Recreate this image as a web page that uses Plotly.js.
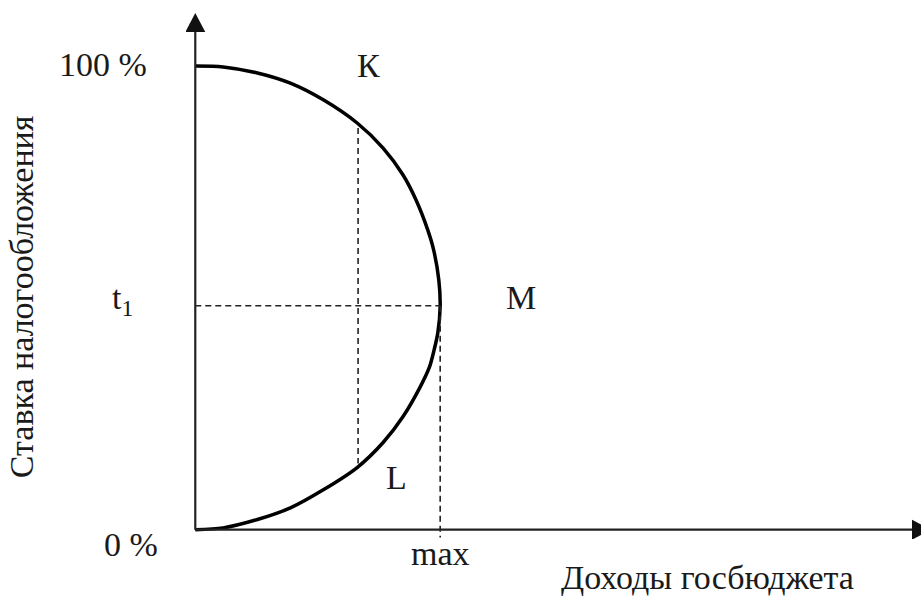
<!DOCTYPE html>
<html>
<head>
<meta charset="utf-8">
<script src="https://cdn.plot.ly/plotly-3.0.1.min.js"></script>
<style>
  body { margin: 0; background: #fff; }
  #chart { width: 921px; height: 598px; }
</style>
</head>
<body>
<div id="chart"></div>
<script>
// curve (x = revenue, y = tax rate %)
var curveX = [0, 6.0, 13.4, 20.5, 27.6, 34.9, 40.5, 44.8, 47.6, 50.1, 51.4, 52.5, 52.8,
              52.3, 51.5, 50.5, 48.5, 44.8, 40.5, 34.9, 27.6, 20.5, 13.4, 6.0, 0];
var curveY = [100, 99.8, 98.5, 96.3, 92.7, 87.7, 82.3, 76.5, 71.1, 64.7, 60.3, 53.9, 48.3,
              42.5, 38.8, 35.1, 30.8, 24.4, 18.8, 13.4, 8.6, 4.7, 2.2, 0.4, 0];

var t1Rate = 48.3;          // rate giving max revenue
var maxRevenue = 52.8;      // revenue at t1
var kRevenue = 35.1;        // revenue at points K and L
var kRate = 86.6;
var lRate = 14.3;

var pointLabels = ['К', 'М', 'L'];
var pointX = [37.3, 70.3, 43.3];
var pointY = [100, 50, 11.2];

var rateLabels = ['100 %', 't<sub>1</sub>', '0 %'];
var xTitle = 'Доходы госбюджета';
var yTitle = 'Ставка налогообложения';

// scale: 4.64 px per unit, origin at pixel (195, 530)
var K = 4.64, OX = 195, OY = 530;
var xLo = -2, yLo = -2;
var xHi = (921 - OX) / K, yTip = 111.4;
var mL = OX + xLo * K, mB = 598 - (OY - yLo * K), mT = 10;
var W = 921 - mL, H = 598 - mT - mB;
function px(x) { return (x - mL) / W; }
function py(y) { return (598 - mB - y) / H; }

var serif = 'Liberation Serif, Times New Roman, serif';
var ink = '#1a1a1a';
var dash = { color: '#222', width: 1.6, dash: '6px,4px' };

var curve = {
  x: curveX, y: curveY,
  type: 'scatter', mode: 'lines',
  line: { color: '#000', width: 3.5, shape: 'spline', smoothing: 0.8 },
  hoverinfo: 'skip'
};

var t1Line = {
  x: [0, maxRevenue], y: [t1Rate, t1Rate],
  type: 'scatter', mode: 'lines', line: dash, hoverinfo: 'skip'
};

var maxLine = {
  x: [maxRevenue, maxRevenue], y: [t1Rate, -1.7],
  type: 'scatter', mode: 'lines', line: dash, hoverinfo: 'skip'
};

var klLine = {
  x: [kRevenue, kRevenue], y: [kRate, lRate],
  type: 'scatter', mode: 'lines', line: dash, hoverinfo: 'skip'
};

// axes with arrow heads
var axisLine = { color: '#222', width: 2.2 };
var shapes = [
  { type: 'line', xref: 'x', yref: 'y', x0: 0, y0: 0, x1: xHi, y1: 0, line: axisLine },
  { type: 'line', xref: 'x', yref: 'y', x0: 0, y0: 0, x1: 0, y1: yTip - 2, line: axisLine },
  { type: 'path', xref: 'x', yref: 'y', xsizemode: 'pixel', ysizemode: 'pixel',
    xanchor: 0, yanchor: yTip, path: 'M -10,-19 L 0,0 L 10,-19 Z',
    fillcolor: '#111', line: { width: 0 } },
  { type: 'path', xref: 'x', yref: 'y', xsizemode: 'pixel', ysizemode: 'pixel',
    xanchor: xHi, yanchor: 0, path: 'M -9,10 L 10,0 L -9,-10 Z',
    fillcolor: '#111', line: { width: 0 } }
];

var labelFont = { family: serif, size: 34, color: ink };

var annotations = [
  { xref: 'paper', yref: 'paper', x: px(149), y: py(65), xanchor: 'right', yanchor: 'middle',
    text: rateLabels[0], showarrow: false, font: labelFont },
  { xref: 'paper', yref: 'paper', x: px(110), y: py(300), xanchor: 'left', yanchor: 'middle',
    text: rateLabels[1], showarrow: false, font: labelFont },
  { xref: 'paper', yref: 'paper', x: px(160), y: py(545), xanchor: 'right', yanchor: 'middle',
    text: rateLabels[2], showarrow: false, font: labelFont },
  { xref: 'paper', yref: 'paper', x: px(440), y: py(554), xanchor: 'center', yanchor: 'middle',
    text: 'max', showarrow: false, font: labelFont },
  { xref: 'paper', yref: 'paper', x: px(707), y: py(578), xanchor: 'center', yanchor: 'middle',
    text: xTitle, showarrow: false, font: labelFont },
  { xref: 'paper', yref: 'paper', x: px(22), y: py(297), xanchor: 'center', yanchor: 'middle',
    text: yTitle, textangle: -90, showarrow: false, font: labelFont }
];

for (var i = 0; i < pointLabels.length; i++) {
  annotations.push({
    x: pointX[i], y: pointY[i], xref: 'x', yref: 'y',
    text: pointLabels[i], showarrow: false, font: labelFont
  });
}

var layout = {
  width: 921,
  height: 598,
  margin: { l: mL, r: 0, t: mT, b: mB },
  paper_bgcolor: '#fff',
  plot_bgcolor: '#fff',
  showlegend: false,
  xaxis: { range: [xLo, xHi], visible: false, fixedrange: true },
  yaxis: { range: [yLo, (OY - mT) / K], visible: false, fixedrange: true },
  shapes: shapes,
  annotations: annotations
};

Plotly.newPlot('chart', [curve, t1Line, maxLine, klLine], layout,
  { displayModeBar: false, staticPlot: true });
</script>
</body>
</html>
